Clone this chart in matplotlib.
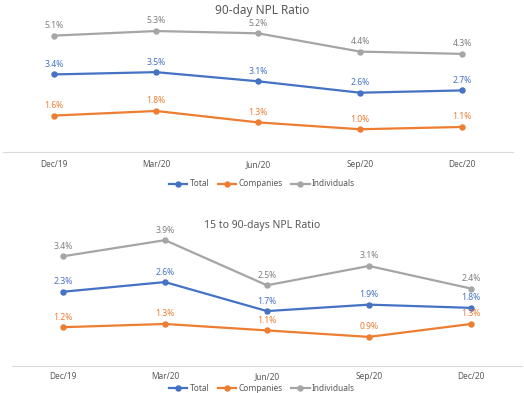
import matplotlib.pyplot as plt

plt.rcParams['font.family'] = ['Noto Sans', 'DejaVu Sans']

quarters = ["Dec/19", "Mar/20", "Jun/20", "Sep/20", "Dec/20"]
series_names = ["Total", "Companies", "Individuals"]

npl90_total = [3.4, 3.5, 3.1, 2.6, 2.7]
npl90_companies = [1.6, 1.8, 1.3, 1.0, 1.1]
npl90_individuals = [5.1, 5.3, 5.2, 4.4, 4.3]

npl15_total = [2.3, 2.6, 1.7, 1.9, 1.8]
npl15_companies = [1.2, 1.3, 1.1, 0.9, 1.3]
npl15_individuals = [3.4, 3.9, 2.5, 3.1, 2.4]

line_colors = ["#4472C4", "#ED7D31", "#A5A5A5"]
label_colors = ["#4472C4", "#ED7D31", "#7F7F7F"]


def draw_panel(ax, values, ymax, pad):
    x = range(len(quarters))
    handles = []
    for vals, lc, tc, name in zip(values, line_colors, label_colors, series_names):
        h, = ax.plot(x, vals, color=lc, lw=1.6, marker="o", ms=3.6, label=name)
        handles.append(h)
        for xi, v in zip(x, vals):
            ax.annotate(f"{v:.1f}%", (xi, v), xytext=(0, 4), textcoords="offset points",
                        ha="center", va="bottom", fontsize=6.2, color=tc, fontweight="bold")
    ax.set_xlim(-0.5, 4.5)
    ax.set_ylim(0, ymax)
    ax.set_xticks(list(x))
    ax.set_xticklabels(quarters, fontsize=6, color="#595959")
    ax.set_yticks([])
    ax.tick_params(axis="x", length=0, pad=pad)
    for side in ["top", "left", "right"]:
        ax.spines[side].set_visible(False)
    ax.spines["bottom"].set_color("#D9D9D9")
    ax.spines["bottom"].set_linewidth(0.8)
    ax.patch.set_alpha(0)
    return handles


fig = plt.figure(figsize=(5.24, 3.93), dpi=100)

ax1 = fig.add_axes([0.006, 0.613, 0.973, 0.34])
h = draw_panel(ax1, [npl90_total, npl90_companies, npl90_individuals], 5.85, 6)
fig.text(0.5, 0.99, "90-day NPL Ratio", ha="center", va="top", fontsize=8.5, color="#595959")
fig.legend(handles=h, loc="center", bbox_to_anchor=(0.5, 0.532), ncol=3, frameon=False,
           fontsize=6, handlelength=2.2, columnspacing=1.0, handletextpad=0.3,
           labelcolor="#595959")

ax2 = fig.add_axes([0.023, 0.069, 0.973, 0.365])
h = draw_panel(ax2, [npl15_total, npl15_companies, npl15_individuals], 4.45, 4.5)
fig.text(0.5, 0.44, "15 to 90-days NPL Ratio", ha="center", va="top", fontsize=7.5,
         color="#595959")
fig.legend(handles=h, loc="center", bbox_to_anchor=(0.5, 0.011), ncol=3, frameon=False,
           fontsize=6, handlelength=2.2, columnspacing=1.0, handletextpad=0.3,
           borderpad=0.1, labelcolor="#595959")

fig.savefig("out.png", dpi=100)
